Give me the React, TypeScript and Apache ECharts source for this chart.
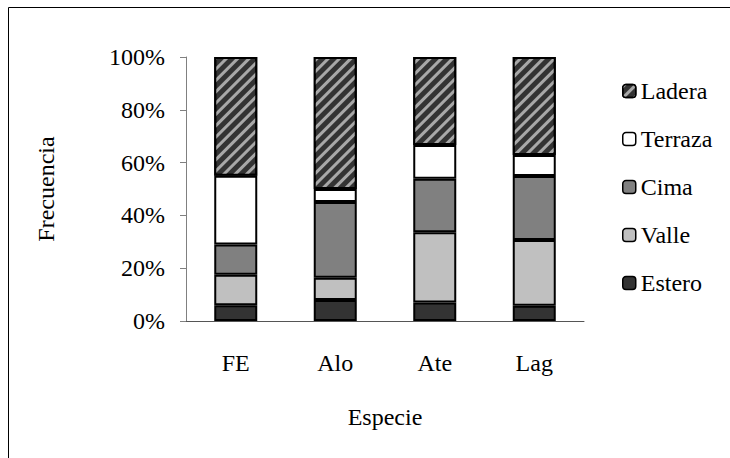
import React, { useEffect, useRef } from 'react';
import * as echarts from 'echarts';

const categories = ['FE', 'Alo', 'Ate', 'Lag'];
const estero = [6, 8, 7, 5.8];
const valle = [11.5, 8.4, 26.6, 24.9];
const cima = [11.5, 28.7, 20.3, 24.2];
const terraza = [26, 4.9, 12.8, 8.0];
const ladera = [45, 50, 33.3, 37.1];
const legendOrder = ['Ladera', 'Terraza', 'Cima', 'Valle', 'Estero'];

const FONT = 'Liberation Serif';

export default function App() {
  const ref = useRef<HTMLDivElement>(null);
  useEffect(() => {
    if (!ref.current) return;
    const chart = echarts.init(ref.current, null, { renderer: 'svg' });
    const border = { borderColor: '#000', borderWidth: 2 };
    const txt = { fontFamily: FONT, fontSize: 24, color: '#000' };
    const mk = (name: string, data: number[], color: string, extra: any = {}) => ({
      name,
      type: 'bar',
      stack: 'total',
      data,
      barWidth: 43,
      itemStyle: { color, ...border, ...extra },
      emphasis: { disabled: true },
    });
    chart.setOption({
      animation: false,
      textStyle: { fontFamily: FONT, color: '#000' },
      graphic: [
        {
          type: 'rect',
          shape: { x: 8.5, y: 7.5, width: 800, height: 500 },
          style: { fill: 'none', stroke: '#000', lineWidth: 1 },
          silent: true,
        },
      ],
      grid: { left: 186, top: 57, width: 398, height: 264 },
      legend: {
        data: legendOrder.map((name) => ({ name, textStyle: txt })),
        orient: 'vertical',
        left: 617,
        top: 74,
        itemWidth: 13,
        itemHeight: 13,
        itemGap: 24,
        itemStyle: { borderColor: '#000', borderWidth: 1.5 },
        textStyle: txt,
      },
      xAxis: {
        type: 'category',
        data: categories,
        name: 'Especie',
        nameLocation: 'middle',
        nameGap: 84,
        nameTextStyle: txt,
        axisLine: { lineStyle: { color: '#555', width: 1 } },
        axisTick: { length: 7, lineStyle: { color: '#555' } },
        axisLabel: { margin: 30, ...txt },
      },
      yAxis: {
        type: 'value',
        min: 0,
        max: 100,
        interval: 20,
        name: 'Frecuencia',
        nameLocation: 'middle',
        nameGap: 128,
        nameTextStyle: txt,
        axisLine: { show: true, lineStyle: { color: '#808080', width: 1 } },
        axisTick: { show: true, length: 6, lineStyle: { color: '#808080' } },
        splitLine: { show: false },
        axisLabel: { margin: 21, formatter: '{value}%', ...txt },
      },
      series: [
        mk('Estero', estero, '#333333'),
        mk('Valle', valle, '#c0c0c0'),
        mk('Cima', cima, '#808080'),
        mk('Terraza', terraza, '#ffffff'),
        mk('Ladera', ladera, '#333333', {
          decal: {
            symbol: 'rect',
            symbolSize: 1,
            color: '#a8a8a8',
            dashArrayX: [1, 0],
            dashArrayY: [3, 4.5],
            rotation: -Math.PI / 4,
          },
        }),
      ],
    });
    return () => chart.dispose();
  }, []);
  return (
    <div
      ref={ref}
      style={{ position: 'fixed', left: 0, top: 0, width: 730, height: 458, background: '#fff' }}
    />
  );
}
